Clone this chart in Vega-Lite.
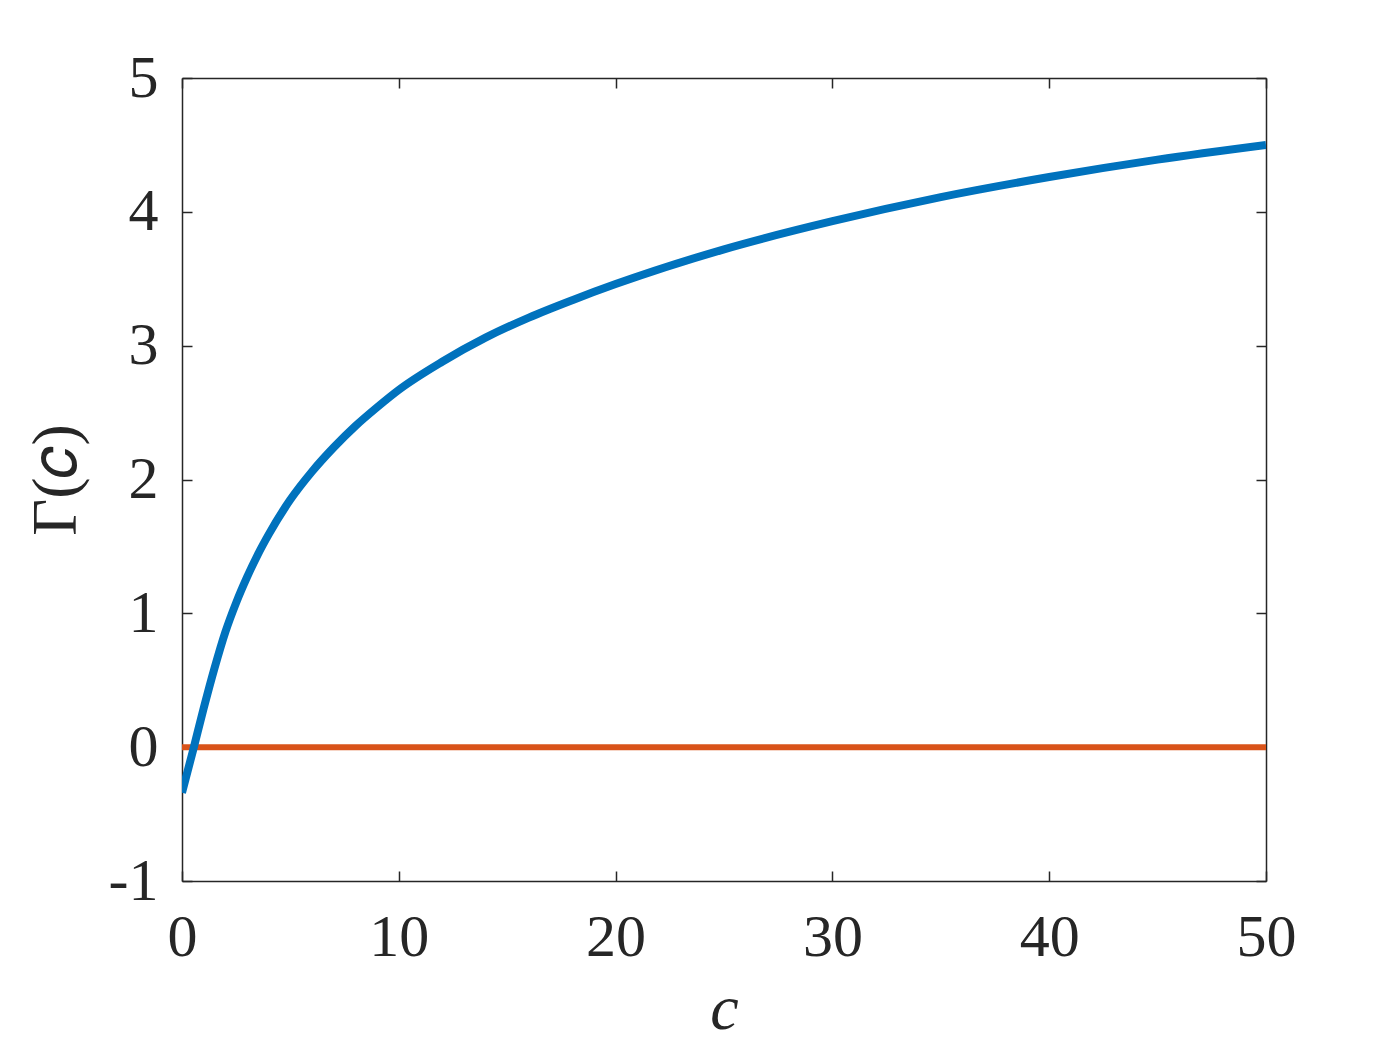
{
  "$schema": "https://vega.github.io/schema/vega-lite/v6.json",
  "width": 1084,
  "height": 803,
  "autosize": {"type": "none"},
  "padding": {"left": 182, "top": 78, "right": 134, "bottom": 169},
  "background": "white",
  "config": {
    "view": {"stroke": null},
    "axis": {
      "labelFont": "Times New Roman, Liberation Serif, serif",
      "titleFont": "Times New Roman, Liberation Serif, serif",
      "labelFontSize": 60,
      "titleFontSize": 64,
      "labelColor": "#262626",
      "titleColor": "#262626",
      "titleFontWeight": "normal",
      "domainColor": "#262626",
      "domainWidth": 1.5,
      "tickColor": "#262626",
      "tickWidth": 1.5,
      "tickSize": -10,
      "labelFlush": false,
      "grid": false
    }
  },
  "datasets": {
    "gamma": [
      {"c": 0, "g": -0.34},
      {"c": 0.5, "g": -0.03},
      {"c": 1, "g": 0.29},
      {"c": 1.5, "g": 0.59},
      {"c": 2, "g": 0.86},
      {"c": 2.5, "g": 1.08},
      {"c": 3, "g": 1.27},
      {"c": 3.5, "g": 1.44},
      {"c": 4, "g": 1.59},
      {"c": 5, "g": 1.85},
      {"c": 6, "g": 2.06},
      {"c": 7, "g": 2.24},
      {"c": 8, "g": 2.4},
      {"c": 9, "g": 2.54},
      {"c": 10, "g": 2.67},
      {"c": 12, "g": 2.88},
      {"c": 14, "g": 3.06},
      {"c": 16, "g": 3.21},
      {"c": 18, "g": 3.34},
      {"c": 20, "g": 3.46},
      {"c": 25, "g": 3.72},
      {"c": 30, "g": 3.93},
      {"c": 35, "g": 4.11},
      {"c": 40, "g": 4.26},
      {"c": 45, "g": 4.39},
      {"c": 50, "g": 4.5}
    ],
    "zero": [
      {"c": 0, "g": 0},
      {"c": 50, "g": 0}
    ]
  },
  "layer": [
    {
      "data": {"name": "zero"},
      "mark": {"type": "line", "color": "#D95319", "strokeWidth": 6, "clip": true},
      "encoding": {
        "x": {"field": "c", "type": "quantitative", "scale": {"domain": [0, 50], "nice": false},
          "axis": {"orient": "top", "labels": false, "title": null, "values": [0, 10, 20, 30, 40, 50]}},
        "y": {"field": "g", "type": "quantitative", "scale": {"domain": [-1, 5], "nice": false},
          "axis": {"orient": "right", "labels": false, "title": null, "values": [-1, 0, 1, 2, 3, 4, 5]}}
      }
    },
    {
      "data": {"name": "gamma"},
      "mark": {"type": "line", "color": "#0072BD", "strokeWidth": 8, "clip": true, "interpolate": "monotone"},
      "encoding": {
        "x": {"field": "c", "type": "quantitative", "scale": {"domain": [0, 50], "nice": false},
          "axis": {"orient": "bottom", "title": "c", "titleFontStyle": "italic", "labelPadding": 37, "titlePadding": 10, "values": [0, 10, 20, 30, 40, 50]}},
        "y": {"field": "g", "type": "quantitative", "scale": {"domain": [-1, 5], "nice": false},
          "axis": {"orient": "left", "title": "Γ(𝑐)", "labelPadding": 34, "titlePadding": 20, "labelExpr": "replace(datum.label, '−', '-')", "values": [-1, 0, 1, 2, 3, 4, 5]}}
      }
    }
  ],
  "resolve": {"axis": {"x": "independent", "y": "independent"}}
}
